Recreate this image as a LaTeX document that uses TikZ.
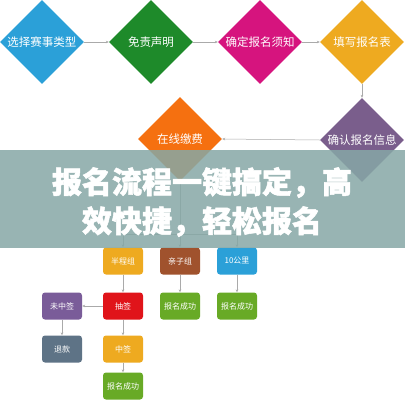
\documentclass[tikz,border=0pt]{standalone}
\usepackage{fontspec}
\setmainfont{Noto Sans CJK SC}
\newfontfamily\bannerfont{Noto Sans CJK SC}[BoldFeatures={FakeBold=1.6}]
\usetikzlibrary{shapes.geometric,arrows.meta,positioning}

\definecolor{cblue}{RGB}{43,160,216}
\definecolor{cgreen}{RGB}{30,138,42}
\definecolor{cmagenta}{RGB}{214,20,126}
\definecolor{cyellow}{RGB}{238,170,32}
\definecolor{corange}{RGB}{245,112,16}
\definecolor{cpurple}{RGB}{122,94,140}
\definecolor{cbrown}{RGB}{160,82,45}
\definecolor{cred}{RGB}{224,20,26}
\definecolor{clime}{RGB}{104,170,38}
\definecolor{cslate}{RGB}{94,115,134}
\definecolor{cviolet}{RGB}{122,92,153}
\definecolor{cbanner}{RGB}{134,168,166}
\definecolor{linegray}{RGB}{170,170,170}

\begin{document}
\begin{tikzpicture}[x=1pt,y=-1pt]
    % Styles for the diamonds, boxes and arrows
    \tikzset{
        diam/.style={
            diamond,
            aspect=1,
            minimum size=84pt,
            inner sep=0pt,
            text=white,
            font=\fontsize{11.5}{12}\selectfont
        },
        box/.style={
            rectangle,
            rounded corners=3pt,
            minimum width=40pt,
            minimum height=27pt,
            inner sep=0pt,
            text=white,
            font=\fontsize{8}{9}\selectfont
        },
        arrow/.style={
            draw=linegray,
            line width=0.5pt,
            -{Stealth[length=3pt,width=2.6pt]}
        }
    }
    \useasboundingbox (0,0) rectangle (405,400);
    \fill[white] (0,0) rectangle (405,400);
    % Top row of steps
    \foreach \n/\x/\c/\t in {type/42/cblue/选择赛事类型, free/151/cgreen/免责声明,
                            notice/260/cmagenta/确定报名须知, form/362/cyellow/填写报名表} {
        \node[diam, fill=\c] (\n) at (\x,42) {\t};
    }
    % Second row
    \node[diam, fill=corange] (pay) at (180,139) {在线缴费};
    \node[diam, fill=cpurple] (check) at (362,140) {确认报名信息};
    % Groups
    \node[box, fill=cyellow] (half) at (123,261) {半程组};
    \node[box, fill=cbrown] (family) at (180,261) {亲子组};
    \node[box, fill=cblue] (ten) at (237,261) {10公里};
    \node[box, fill=cred] (draw) at (123,306) {抽签};
    \node[box, fill=clime] (okfam) at (180,306) {报名成功};
    \node[box, fill=clime] (okten) at (237,306) {报名成功};
    \node[box, fill=cviolet] (miss) at (62,306) {未中签};
    \node[box, fill=cslate] (refund) at (62,349) {退款};
    \node[box, fill=cyellow] (win) at (123,349) {中签};
    \node[box, fill=clime] (okhalf) at (123,386) {报名成功};
    % Connectors
    \draw[arrow] (type.east) -- (free.west);
    \draw[arrow] (free.east) -- (notice.west);
    \draw[arrow] (notice.east) -- (form.west);
    \draw[arrow] (form.south) -- (check.north);
    \draw[arrow] (check.west) -- (pay.east);
    \coordinate (fork) at (180,234);
    \draw[draw=linegray, line width=0.5pt] (pay.south) -- (fork);
    \draw[arrow] (fork) -| (half.north);
    \draw[arrow] (fork) -- (family.north);
    \draw[arrow] (fork) -| (ten.north);
    \draw[arrow] (half) -- (draw);
    \draw[arrow] (draw) -- (miss);
    \draw[arrow] (miss) -- (refund);
    \draw[arrow] (draw) -- (win);
    \draw[arrow] (win) -- (okhalf);
    \draw[arrow] (family) -- (okfam);
    \draw[arrow] (ten) -- (okten);
    % Banner on top
    \fill[cbanner, opacity=0.85] (0,150) rectangle (405,248);
    \node[text=white, align=center, font=\bannerfont\fontsize{30}{39}\selectfont\bfseries]
        (title) at (202,202) {报名流程一键搞定，高\\效快捷，轻松报名};
\end{tikzpicture}
\end{document}
